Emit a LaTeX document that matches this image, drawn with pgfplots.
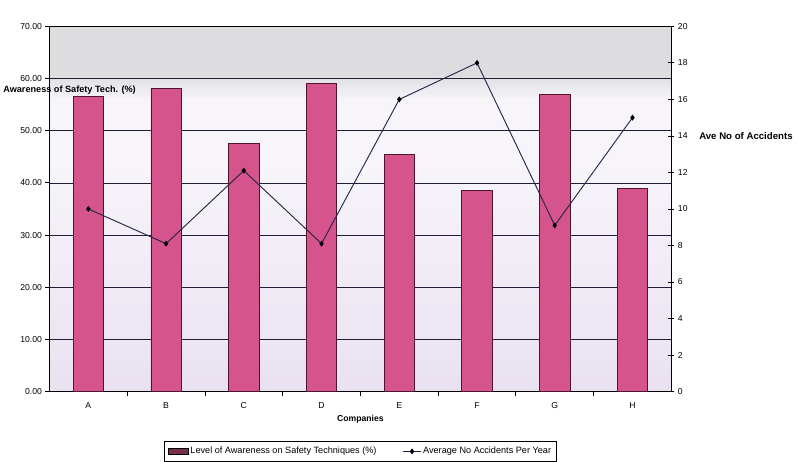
\documentclass[border=0pt]{standalone}
\usepackage{pgfplots}
\pgfplotsset{compat=1.18}
\usepackage{fontspec}
\setmainfont{Liberation Sans}

\definecolor{barpink}{RGB}{214,84,140}
\definecolor{barline}{RGB}{80,20,45}
\definecolor{gridc}{RGB}{30,30,55}
\definecolor{linec}{RGB}{35,35,70}
\definecolor{bgtop}{RGB}{221,221,223}
\definecolor{bgmid}{RGB}{247,244,250}
\definecolor{bgbot}{RGB}{233,225,240}
% plot area: lavender below, near white in the middle, grey band above 60
\pgfdeclareverticalshading{plotbg}{100bp}{color(0bp)=(bgbot); color(25bp)=(bgbot);
  color(56bp)=(bgmid); color(65bp)=(bgmid); color(68.5bp)=(bgtop); color(100bp)=(bgtop)}

\begin{document}
\begin{tikzpicture}[font=\fontsize{8.5}{10}\selectfont]
% awareness bars, left axis
\begin{axis}[
  scale only axis, width=613pt, height=360pt,
  xmin=-0.5, xmax=7.5, ymin=0, ymax=70,
  ytick={0,10,...,70},
  xtick={0,...,7}, xticklabels={A,B,C,D,E,F,G,H},
  major x tick style={draw=none},
  minor xtick={0.5,1.5,...,6.5},
  tick pos=left, tick align=outside,
  major tick length=4pt, minor tick length=4pt,
  tick style={black, line width=0.8pt},
  axis line style={black, line width=0.9pt},
  ymajorgrids, grid style={gridc, line width=0.7pt},
  axis background/.style={shading=plotbg},
  yticklabel style={/pgf/number format/.cd, fixed, fixed zerofill, precision=2, assume math mode=true},
  xticklabel style={yshift=-3pt},
  xlabel={\bfseries Companies},
  xlabel style={yshift=0pt},
]
\addplot[ybar, bar width=30pt, fill=barpink, draw=barline, line width=0.7pt]
  coordinates {(0,56.6) (1,58.1) (2,47.5) (3,59.0) (4,45.5) (5,38.5) (6,57.0) (7,39.0)};
\coordinate (tl) at ([yshift=26pt]rel axis cs:0,1);
\end{axis}
% accidents line, right axis
\begin{axis}[
  scale only axis, width=613pt, height=360pt,
  xmin=-0.5, xmax=7.5, ymin=0, ymax=20,
  ytick={0,2,...,20},
  axis y line*=right, axis x line=none,
  tick align=center, major tick length=6pt,
  tick style={black, line width=0.8pt},
  axis line style={black, line width=0.9pt},
  yticklabel style={/pgf/number format/assume math mode=true},
  legend columns=2,
  legend style={at={(axis description cs:0.5,-0.135)}, anchor=north,
    draw=black, line width=0.8pt, font=\fontsize{9}{11}\selectfont,
    inner xsep=3pt, inner ysep=4pt,
    /tikz/every even column/.append style={column sep=24pt}},
]
\addlegendimage{legend image code/.code={
    \fill[barpink!55!black, draw=black, line width=0.5pt] (0cm,-0.1cm) rectangle (0.7cm,0.12cm);}}
\addlegendentry{Level of Awareness on Safety Techniques (\%)}
\addplot[linec, line width=0.9pt, mark=diamond*, mark size=2.2pt, mark options={fill=black, draw=black}]
  coordinates {(0,10.0) (1,8.1) (2,12.1) (3,8.1) (4,16.0) (5,18.0) (6,9.1) (7,15.0)};
\addlegendentry{Average No Accidents Per Year}
\end{axis}
\node[anchor=west, font=\bfseries\fontsize{9}{10}\selectfont] at ([xshift=-49pt, yshift=297pt]0,0) {Awareness of Safety Tech. (\%)};
\node[anchor=west, font=\bfseries\fontsize{9.5}{11}\selectfont] at ([xshift=637pt, yshift=252pt]0,0) {Ave No of Accidents};
\path (tl);
\end{tikzpicture}
\end{document}
